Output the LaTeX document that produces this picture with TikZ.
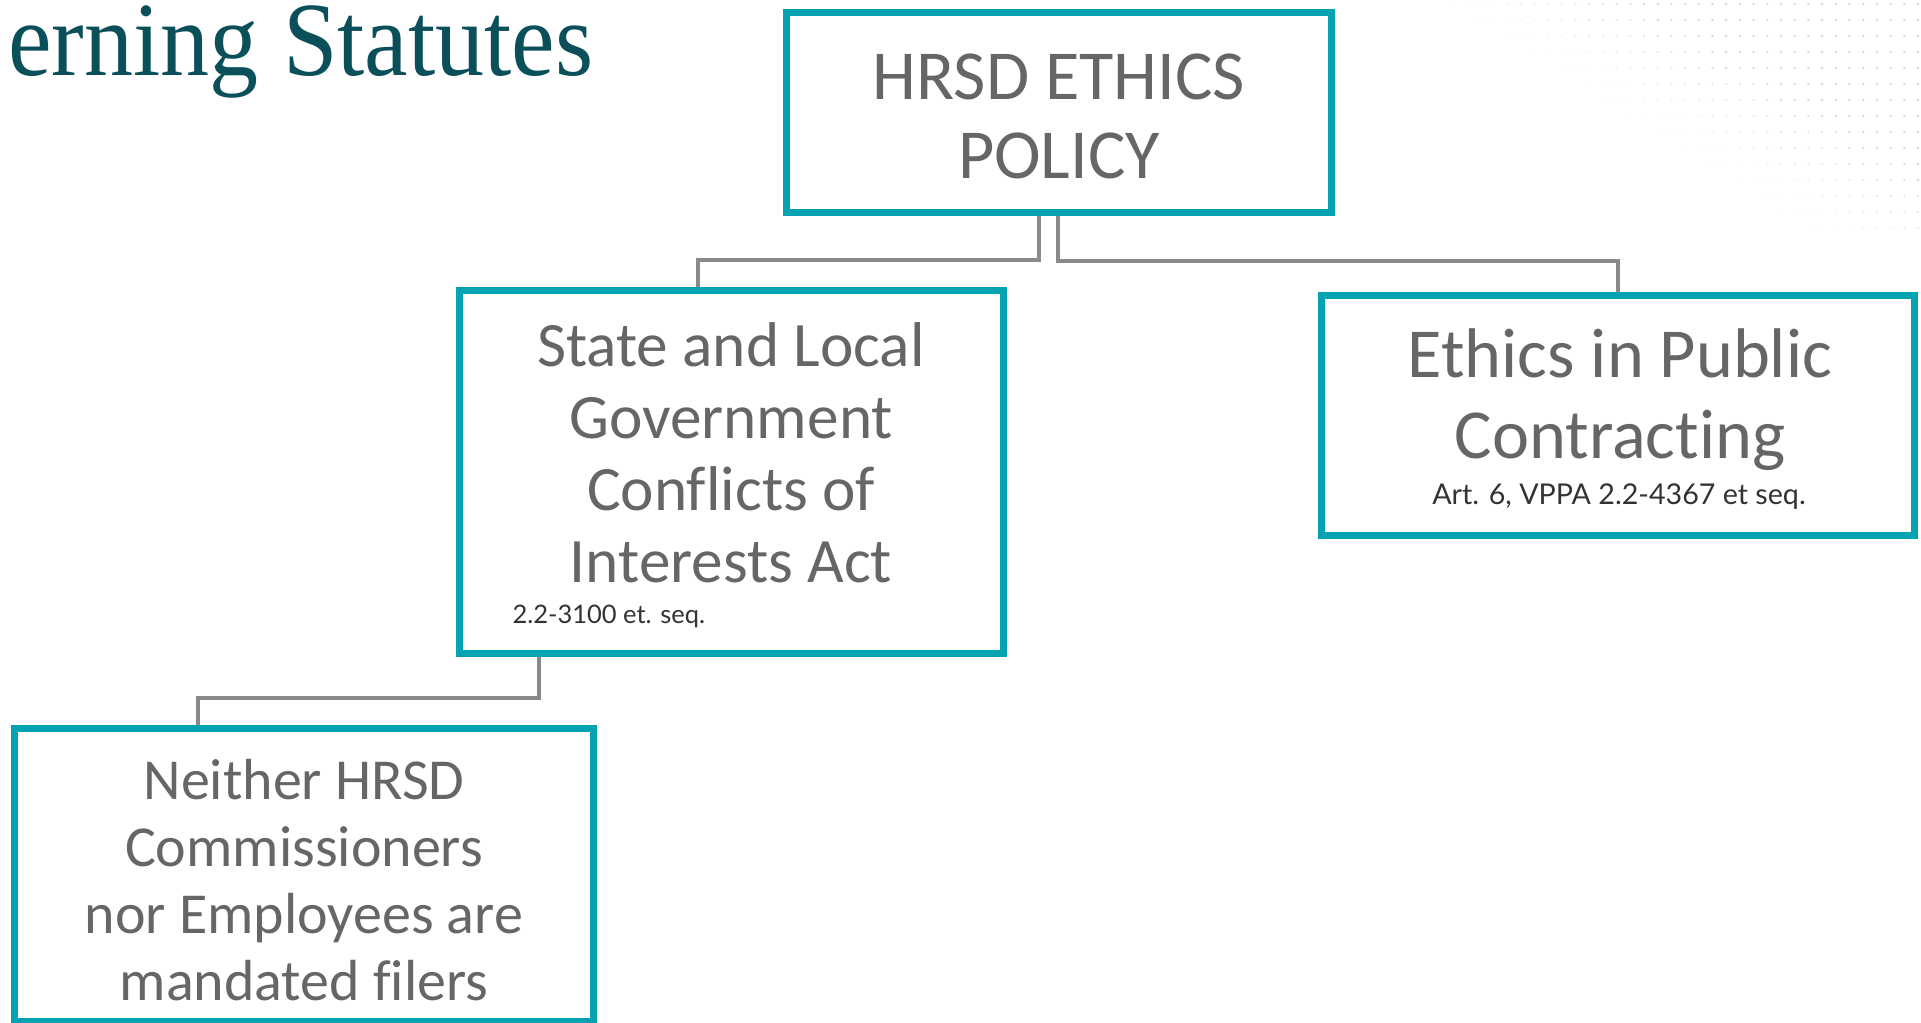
\documentclass[tikz,border=0pt]{standalone}
\usepackage{fontspec}
\usepackage{tikz}
\usetikzlibrary{positioning}
\setmainfont{Carlito}[Ligatures={NoCommon}]
\newfontfamily\titlefont{Liberation Serif}[FakeStretch=0.93]
\newfontfamily\citefont{Lato}
\definecolor{hrsdteal}{HTML}{03A3B2}
\definecolor{boxgray}{HTML}{666666}
\definecolor{citegray}{HTML}{333333}
\definecolor{linkgray}{HTML}{8A8A8A}
\definecolor{titleteal}{HTML}{0B4F5A}

\begin{document}
\begin{tikzpicture}[x=0.02cm,y=-0.02cm,semithick]
\tikzstyle{box}=[draw=hrsdteal,line width=0.14cm,fill=white,inner sep=0pt]
\tikzstyle{boxtext}=[text=boxgray,align=center,inner sep=0pt]
\tikzstyle{cite}=[text=citegray,inner sep=0pt,font=\citefont]
\tikzstyle{link}=[draw=linkgray,line width=0.07cm]
\useasboundingbox (0,0) rectangle (1921,1023);

% faint dots, top right
\foreach \i in {0,...,34}
  \foreach \j in {0,...,14}{
    \pgfmathsetmacro\dx{1918-\i*13.7}
    \pgfmathsetmacro\dy{4+\j*16}
    \pgfmathsetmacro\op{max(0,min(0.3,(\dx-1440-1.6*\dy)/700))}
    \fill[gray,opacity=\op] (\dx,\dy) circle (1.3);
  }

\node[anchor=base east,text=titleteal,inner sep=0pt,
      font=\titlefont\fontsize{60}{62}\selectfont] (T) at (594,76) {erning Statutes};

\node[box,minimum width=10.9cm,minimum height=4cm]     (A) at (1059,112.5) {};
\node[box,minimum width=10.88cm,minimum height=7.26cm] (B) at (731.5,472) {};
\node[box,minimum width=11.86cm,minimum height=4.8cm]  (C) at (1618,415.5) {};
\node[box,minimum width=11.58cm,minimum height=5.86cm] (D) at (304,875) {};

\node[boxtext,font=\fontsize{40}{45}\selectfont] (At) at (1059,116)
  {HRSD ETHICS\\POLICY};
\node[boxtext,font=\fontsize{36}{41}\selectfont] (Bt) at (731,453)
  {State and Local\\Government\\Conflicts of\\Interests Act};
\node[cite,anchor=west,font=\citefont\fontsize{14.5}{16}\selectfont] (Bc) at (512,616)
  {2.2-3100 et. seq.};
\node[boxtext,font=\fontsize{40}{46}\selectfont] (Ct) at (1620,400)
  {Ethics in Public\\Contracting};
\node[cite,font=\citefont\fontsize{16.3}{18}\selectfont] (Cc) at (1619,497)
  {Art. 6, VPPA 2.2-4367 et seq.};
\node[boxtext,font=\fontsize{33}{38}\selectfont] (Dt) at (304,880)
  {Neither HRSD\\Commissioners\\nor Employees are\\mandated filers};

\draw[link] ([xshift=-0.4cm]A.south) -- ++(0,44) -| ([xshift=-0.67cm]B.north);
\draw[link] ([xshift=-0.02cm]A.south) -- ++(0,45) -| (C.north);
\draw[link] ([xshift=-3.85cm]B.south) -- ++(0,41) -| ([xshift=-2.12cm]D.north);
\end{tikzpicture}
\end{document}
